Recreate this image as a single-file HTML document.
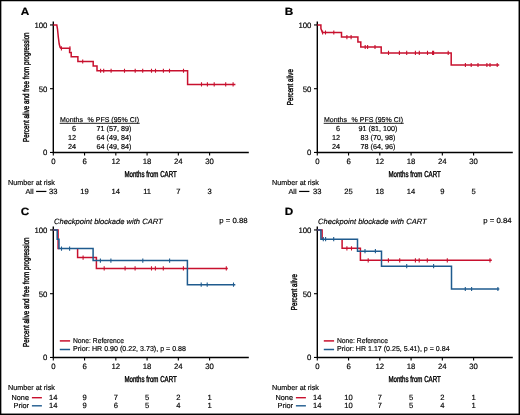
<!DOCTYPE html>
<html><head><meta charset="utf-8"><style>
html,body{margin:0;padding:0;background:#fff;width:520px;height:415px;overflow:hidden}
svg{display:block;will-change:transform;text-rendering:geometricPrecision} text{stroke:#000;stroke-width:0.16px} .cond{stroke-width:0.4px} .bold{stroke-width:0.2px}
</style></head><body>
<svg width="520" height="415" viewBox="0 0 520 415" font-family='"Liberation Sans", sans-serif' fill="#000">
<rect width="520" height="415" fill="#fff"/>
<text transform="translate(20.80,14.75) scale(1.12,1)" font-size="10.5" font-weight="bold" class="bold">A</text>
<path d="M53.3,21.45 V152.45 H248.8" fill="none" stroke="#000" stroke-width="1.4"/>
<path d="M50.0,24.95 H53.3" stroke="#000" stroke-width="1.1"/>
<text x="47.40" y="27.75" font-size="7.8" text-anchor="end" >100</text>
<path d="M50.0,88.70 H53.3" stroke="#000" stroke-width="1.1"/>
<text x="47.40" y="91.50" font-size="7.8" text-anchor="end" >50</text>
<path d="M50.0,152.45 H53.3" stroke="#000" stroke-width="1.1"/>
<text x="47.40" y="155.25" font-size="7.8" text-anchor="end" >0</text>
<path d="M53.30,152.45 V155.54999999999998" stroke="#000" stroke-width="1.1"/>
<text x="53.30" y="163.65" font-size="7.8" text-anchor="middle" >0</text>
<path d="M84.56,152.45 V155.54999999999998" stroke="#000" stroke-width="1.1"/>
<text x="84.56" y="163.65" font-size="7.8" text-anchor="middle" >6</text>
<path d="M115.82,152.45 V155.54999999999998" stroke="#000" stroke-width="1.1"/>
<text x="115.82" y="163.65" font-size="7.8" text-anchor="middle" >12</text>
<path d="M147.08,152.45 V155.54999999999998" stroke="#000" stroke-width="1.1"/>
<text x="147.08" y="163.65" font-size="7.8" text-anchor="middle" >18</text>
<path d="M178.34,152.45 V155.54999999999998" stroke="#000" stroke-width="1.1"/>
<text x="178.34" y="163.65" font-size="7.8" text-anchor="middle" >24</text>
<path d="M209.60,152.45 V155.54999999999998" stroke="#000" stroke-width="1.1"/>
<text x="209.60" y="163.65" font-size="7.8" text-anchor="middle" >30</text>
<text x="150.60" y="176.75" font-size="8.6" text-anchor="middle" textLength="52.3" lengthAdjust="spacingAndGlyphs" class="cond">Months from CART</text>
<text class="cond" transform="translate(28.80,87.15) rotate(-90)" font-size="8.6" text-anchor="middle" textLength="109.5" lengthAdjust="spacingAndGlyphs">Percent alive and free from progression</text>
<text x="8.10" y="184.95" font-size="7.2" text-anchor="start" >Number at risk</text>
<text x="25.40" y="193.95" font-size="7.3" text-anchor="start" >All</text>
<path d="M36.10,191.45 H46.40" stroke="#000" stroke-width="1.2"/>
<text x="53.30" y="193.95" font-size="7.6" text-anchor="middle" >33</text>
<text x="84.56" y="193.95" font-size="7.6" text-anchor="middle" >19</text>
<text x="115.82" y="193.95" font-size="7.6" text-anchor="middle" >14</text>
<text x="147.08" y="193.95" font-size="7.6" text-anchor="middle" >11</text>
<text x="178.34" y="193.95" font-size="7.6" text-anchor="middle" >7</text>
<text x="209.60" y="193.95" font-size="7.6" text-anchor="middle" >3</text>
<text x="60.00" y="121.50" font-size="7.0" text-anchor="start" >Months</text>
<text x="87.60" y="121.50" font-size="7.0" text-anchor="start" textLength="51.4" lengthAdjust="spacingAndGlyphs" >% PFS (95% CI)</text>
<path d="M59.70,123.30 H139.70" stroke="#000" stroke-width="0.9"/>
<text x="76.10" y="130.70" font-size="7.3" text-anchor="end" >6</text>
<text x="114.00" y="130.70" font-size="7.2" text-anchor="middle" >71 (57, 89)</text>
<text x="76.10" y="139.90" font-size="7.3" text-anchor="end" >12</text>
<text x="114.00" y="139.90" font-size="7.2" text-anchor="middle" >64 (49, 84)</text>
<text x="76.10" y="149.10" font-size="7.3" text-anchor="end" >24</text>
<text x="114.00" y="149.10" font-size="7.2" text-anchor="middle" >64 (49, 84)</text>
<path d="M53.3,24.95 H56.8 L57.5,29 L58.3,37 L59.2,44 L60.2,47.5 L61,48.3 H69.6 V52.4 H71.2 V56.8 H77.9 V61.5 H93.2 V65.9 H97.0 V70.75 H187.6 V84.4 H235.4" fill="none" stroke="#c8102e" stroke-width="1.5" stroke-linejoin="miter"/>
<path d="M61.4,46.20V50.40M69.95,46.20V50.40M82.7,59.40V63.60M100.6,68.65V72.85M103.7,68.65V72.85M111.1,68.65V72.85M124.5,68.65V72.85M135.2,68.65V72.85M142.7,68.65V72.85M151.5,68.65V72.85M155.5,68.65V72.85M163.4,68.65V72.85M169.5,68.65V72.85M183.5,68.65V72.85M201.5,82.30V86.50M207.4,82.30V86.50M214.2,82.30V86.50M225.7,82.30V86.50M233.1,82.30V86.50" stroke="#c8102e" stroke-width="1.1"/>
<text transform="translate(284.80,14.75) scale(1.12,1)" font-size="10.5" font-weight="bold" class="bold">B</text>
<path d="M317.3,21.45 V152.45 H512.8" fill="none" stroke="#000" stroke-width="1.4"/>
<path d="M314.0,24.95 H317.3" stroke="#000" stroke-width="1.1"/>
<text x="311.40" y="27.75" font-size="7.8" text-anchor="end" >100</text>
<path d="M314.0,88.70 H317.3" stroke="#000" stroke-width="1.1"/>
<text x="311.40" y="91.50" font-size="7.8" text-anchor="end" >50</text>
<path d="M314.0,152.45 H317.3" stroke="#000" stroke-width="1.1"/>
<text x="311.40" y="155.25" font-size="7.8" text-anchor="end" >0</text>
<path d="M317.30,152.45 V155.54999999999998" stroke="#000" stroke-width="1.1"/>
<text x="317.30" y="163.65" font-size="7.8" text-anchor="middle" >0</text>
<path d="M348.56,152.45 V155.54999999999998" stroke="#000" stroke-width="1.1"/>
<text x="348.56" y="163.65" font-size="7.8" text-anchor="middle" >6</text>
<path d="M379.82,152.45 V155.54999999999998" stroke="#000" stroke-width="1.1"/>
<text x="379.82" y="163.65" font-size="7.8" text-anchor="middle" >12</text>
<path d="M411.08,152.45 V155.54999999999998" stroke="#000" stroke-width="1.1"/>
<text x="411.08" y="163.65" font-size="7.8" text-anchor="middle" >18</text>
<path d="M442.34,152.45 V155.54999999999998" stroke="#000" stroke-width="1.1"/>
<text x="442.34" y="163.65" font-size="7.8" text-anchor="middle" >24</text>
<path d="M473.60,152.45 V155.54999999999998" stroke="#000" stroke-width="1.1"/>
<text x="473.60" y="163.65" font-size="7.8" text-anchor="middle" >30</text>
<text x="414.60" y="176.75" font-size="8.6" text-anchor="middle" textLength="52.3" lengthAdjust="spacingAndGlyphs" class="cond">Months from CART</text>
<text class="cond" transform="translate(292.80,87.15) rotate(-90)" font-size="8.6" text-anchor="middle" textLength="36.0" lengthAdjust="spacingAndGlyphs">Percent alive</text>
<text x="272.10" y="184.95" font-size="7.2" text-anchor="start" >Number at risk</text>
<text x="288.40" y="193.95" font-size="7.3" text-anchor="start" >All</text>
<path d="M299.10,191.45 H309.40" stroke="#000" stroke-width="1.2"/>
<text x="317.30" y="193.95" font-size="7.6" text-anchor="middle" >33</text>
<text x="348.56" y="193.95" font-size="7.6" text-anchor="middle" >25</text>
<text x="379.82" y="193.95" font-size="7.6" text-anchor="middle" >18</text>
<text x="411.08" y="193.95" font-size="7.6" text-anchor="middle" >14</text>
<text x="442.34" y="193.95" font-size="7.6" text-anchor="middle" >9</text>
<text x="473.60" y="193.95" font-size="7.6" text-anchor="middle" >5</text>
<text x="324.00" y="121.50" font-size="7.0" text-anchor="start" >Months</text>
<text x="351.60" y="121.50" font-size="7.0" text-anchor="start" textLength="51.4" lengthAdjust="spacingAndGlyphs" >% PFS (95% CI)</text>
<path d="M323.70,123.30 H403.70" stroke="#000" stroke-width="0.9"/>
<text x="340.10" y="130.70" font-size="7.3" text-anchor="end" >6</text>
<text x="378.00" y="130.70" font-size="7.2" text-anchor="middle" >91 (81, 100)</text>
<text x="340.10" y="139.90" font-size="7.3" text-anchor="end" >12</text>
<text x="378.00" y="139.90" font-size="7.2" text-anchor="middle" >83 (70, 98)</text>
<text x="340.10" y="149.10" font-size="7.3" text-anchor="end" >24</text>
<text x="378.00" y="149.10" font-size="7.2" text-anchor="middle" >78 (64, 96)</text>
<path d="M317.3,24.95 H320.9 V28.6 L322.4,32.5 H341.5 V37.1 H357.9 V41.9 H360.8 V47.0 H381.2 V52.9 H451.2 V65.0 H499.2" fill="none" stroke="#c8102e" stroke-width="1.5" stroke-linejoin="miter"/>
<path d="M322.6,30.40V34.60M325.5,30.40V34.60M333.8,30.40V34.60M346.9,35.00V39.20M351.1,35.00V39.20M365.2,44.90V49.10M367.6,44.90V49.10M375.0,44.90V49.10M388.5,50.80V55.00M399.4,50.80V55.00M406.7,50.80V55.00M415.4,50.80V55.00M419.3,50.80V55.00M427.5,50.80V55.00M432.6,50.80V55.00M433.6,50.80V55.00M448.2,50.80V55.00M465.4,62.90V67.10M471.2,62.90V67.10M478.0,62.90V67.10M486.9,62.90V67.10M490.0,62.90V67.10M497.2,62.90V67.10" stroke="#c8102e" stroke-width="1.1"/>
<text transform="translate(20.80,214.75) scale(1.12,1)" font-size="10.5" font-weight="bold" class="bold">C</text>
<path d="M53.3,226.45 V357.45 H248.8" fill="none" stroke="#000" stroke-width="1.4"/>
<path d="M50.0,229.95 H53.3" stroke="#000" stroke-width="1.1"/>
<text x="47.40" y="232.75" font-size="7.8" text-anchor="end" >100</text>
<path d="M50.0,293.70 H53.3" stroke="#000" stroke-width="1.1"/>
<text x="47.40" y="296.50" font-size="7.8" text-anchor="end" >50</text>
<path d="M50.0,357.45 H53.3" stroke="#000" stroke-width="1.1"/>
<text x="47.40" y="360.25" font-size="7.8" text-anchor="end" >0</text>
<path d="M53.30,357.45 V360.55" stroke="#000" stroke-width="1.1"/>
<text x="53.30" y="368.65" font-size="7.8" text-anchor="middle" >0</text>
<path d="M84.56,357.45 V360.55" stroke="#000" stroke-width="1.1"/>
<text x="84.56" y="368.65" font-size="7.8" text-anchor="middle" >6</text>
<path d="M115.82,357.45 V360.55" stroke="#000" stroke-width="1.1"/>
<text x="115.82" y="368.65" font-size="7.8" text-anchor="middle" >12</text>
<path d="M147.08,357.45 V360.55" stroke="#000" stroke-width="1.1"/>
<text x="147.08" y="368.65" font-size="7.8" text-anchor="middle" >18</text>
<path d="M178.34,357.45 V360.55" stroke="#000" stroke-width="1.1"/>
<text x="178.34" y="368.65" font-size="7.8" text-anchor="middle" >24</text>
<path d="M209.60,357.45 V360.55" stroke="#000" stroke-width="1.1"/>
<text x="209.60" y="368.65" font-size="7.8" text-anchor="middle" >30</text>
<text x="150.60" y="381.75" font-size="8.6" text-anchor="middle" textLength="52.3" lengthAdjust="spacingAndGlyphs" class="cond">Months from CART</text>
<text class="cond" transform="translate(28.80,292.15) rotate(-90)" font-size="8.6" text-anchor="middle" textLength="109.5" lengthAdjust="spacingAndGlyphs">Percent alive and free from progression</text>
<text x="8.10" y="390.40" font-size="7.2" text-anchor="start" >Number at risk</text>
<text x="29.00" y="399.90" font-size="7.3" text-anchor="end" >None</text>
<path d="M31.9,397.70 H41.9" stroke="#c8102e" stroke-width="1.4"/>
<text x="53.30" y="399.90" font-size="7.6" text-anchor="middle" >14</text>
<text x="84.56" y="399.90" font-size="7.6" text-anchor="middle" >9</text>
<text x="115.82" y="399.90" font-size="7.6" text-anchor="middle" >7</text>
<text x="147.08" y="399.90" font-size="7.6" text-anchor="middle" >5</text>
<text x="178.34" y="399.90" font-size="7.6" text-anchor="middle" >2</text>
<text x="209.60" y="399.90" font-size="7.6" text-anchor="middle" >1</text>
<text x="29.00" y="408.00" font-size="7.3" text-anchor="end" >Prior</text>
<path d="M31.9,405.80 H41.9" stroke="#1f5b8e" stroke-width="1.4"/>
<text x="53.30" y="408.00" font-size="7.6" text-anchor="middle" >14</text>
<text x="84.56" y="408.00" font-size="7.6" text-anchor="middle" >9</text>
<text x="115.82" y="408.00" font-size="7.6" text-anchor="middle" >6</text>
<text x="147.08" y="408.00" font-size="7.6" text-anchor="middle" >5</text>
<text x="178.34" y="408.00" font-size="7.6" text-anchor="middle" >4</text>
<text x="209.60" y="408.00" font-size="7.6" text-anchor="middle" >1</text>
<text x="54.10" y="223.65" font-size="7.6" font-style="italic" textLength="108.6" lengthAdjust="spacingAndGlyphs">Checkpoint blockade with CART</text>
<text x="247.70" y="223.25" font-size="7.4" text-anchor="end" textLength="28.4" lengthAdjust="spacingAndGlyphs" >p = 0.88</text>
<path d="M59.80,340.90 H70.10" stroke="#c8102e" stroke-width="1.5"/>
<text x="73.00" y="342.50" font-size="7.1" text-anchor="start" textLength="51.0" lengthAdjust="spacingAndGlyphs" >None: Reference</text>
<path d="M59.80,349.50 H70.10" stroke="#1f5b8e" stroke-width="1.5"/>
<text x="73.00" y="351.10" font-size="7.1" text-anchor="start" textLength="113.0" lengthAdjust="spacingAndGlyphs" >Prior: HR 0.90 (0.22, 3.73), p = 0.88</text>
<path d="M53.3,229.95 H58.1 V248.6 H59.5 M77.6,248.6 V257.6 H96.4 V268.45 H227.8" fill="none" stroke="#c8102e" stroke-width="1.5" stroke-linejoin="miter"/>
<path d="M83.1,255.50V259.70M104.2,266.35V270.55M125.1,266.35V270.55M135.1,266.35V270.55M151.5,266.35V270.55M155.4,266.35V270.55M163.3,266.35V270.55M183.4,266.35V270.55M226.3,266.35V270.55" stroke="#c8102e" stroke-width="1.1"/>
<path d="M53.3,229.95 H57.2 V239.2 H59.0 V248.6 H93.1 V260.6 H187.4 V284.7 H235.3" fill="none" stroke="#1f5b8e" stroke-width="1.5" stroke-linejoin="miter"/>
<path d="M61.5,246.50V250.70M69.6,246.50V250.70M100.4,258.50V262.70M110.9,258.50V262.70M142.8,258.50V262.70M169.6,258.50V262.70M201.2,282.60V286.80M207.2,282.60V286.80M233.5,282.60V286.80" stroke="#1f5b8e" stroke-width="1.1"/>
<text transform="translate(284.80,214.75) scale(1.12,1)" font-size="10.5" font-weight="bold" class="bold">D</text>
<path d="M317.3,226.45 V357.45 H512.8" fill="none" stroke="#000" stroke-width="1.4"/>
<path d="M314.0,229.95 H317.3" stroke="#000" stroke-width="1.1"/>
<text x="311.40" y="232.75" font-size="7.8" text-anchor="end" >100</text>
<path d="M314.0,293.70 H317.3" stroke="#000" stroke-width="1.1"/>
<text x="311.40" y="296.50" font-size="7.8" text-anchor="end" >50</text>
<path d="M314.0,357.45 H317.3" stroke="#000" stroke-width="1.1"/>
<text x="311.40" y="360.25" font-size="7.8" text-anchor="end" >0</text>
<path d="M317.30,357.45 V360.55" stroke="#000" stroke-width="1.1"/>
<text x="317.30" y="368.65" font-size="7.8" text-anchor="middle" >0</text>
<path d="M348.56,357.45 V360.55" stroke="#000" stroke-width="1.1"/>
<text x="348.56" y="368.65" font-size="7.8" text-anchor="middle" >6</text>
<path d="M379.82,357.45 V360.55" stroke="#000" stroke-width="1.1"/>
<text x="379.82" y="368.65" font-size="7.8" text-anchor="middle" >12</text>
<path d="M411.08,357.45 V360.55" stroke="#000" stroke-width="1.1"/>
<text x="411.08" y="368.65" font-size="7.8" text-anchor="middle" >18</text>
<path d="M442.34,357.45 V360.55" stroke="#000" stroke-width="1.1"/>
<text x="442.34" y="368.65" font-size="7.8" text-anchor="middle" >24</text>
<path d="M473.60,357.45 V360.55" stroke="#000" stroke-width="1.1"/>
<text x="473.60" y="368.65" font-size="7.8" text-anchor="middle" >30</text>
<text x="414.60" y="381.75" font-size="8.6" text-anchor="middle" textLength="52.3" lengthAdjust="spacingAndGlyphs" class="cond">Months from CART</text>
<text class="cond" transform="translate(297.40,292.15) rotate(-90)" font-size="8.6" text-anchor="middle" textLength="36.0" lengthAdjust="spacingAndGlyphs">Percent alive</text>
<text x="272.10" y="390.40" font-size="7.2" text-anchor="start" >Number at risk</text>
<text x="293.00" y="399.90" font-size="7.3" text-anchor="end" >None</text>
<path d="M295.90000000000003,397.70 H305.90000000000003" stroke="#c8102e" stroke-width="1.4"/>
<text x="317.30" y="399.90" font-size="7.6" text-anchor="middle" >14</text>
<text x="348.56" y="399.90" font-size="7.6" text-anchor="middle" >10</text>
<text x="379.82" y="399.90" font-size="7.6" text-anchor="middle" >7</text>
<text x="411.08" y="399.90" font-size="7.6" text-anchor="middle" >5</text>
<text x="442.34" y="399.90" font-size="7.6" text-anchor="middle" >2</text>
<text x="473.60" y="399.90" font-size="7.6" text-anchor="middle" >1</text>
<text x="293.00" y="408.00" font-size="7.3" text-anchor="end" >Prior</text>
<path d="M295.90000000000003,405.80 H305.90000000000003" stroke="#1f5b8e" stroke-width="1.4"/>
<text x="317.30" y="408.00" font-size="7.6" text-anchor="middle" >14</text>
<text x="348.56" y="408.00" font-size="7.6" text-anchor="middle" >10</text>
<text x="379.82" y="408.00" font-size="7.6" text-anchor="middle" >7</text>
<text x="411.08" y="408.00" font-size="7.6" text-anchor="middle" >5</text>
<text x="442.34" y="408.00" font-size="7.6" text-anchor="middle" >4</text>
<text x="473.60" y="408.00" font-size="7.6" text-anchor="middle" >1</text>
<text x="318.10" y="223.65" font-size="7.6" font-style="italic" textLength="108.6" lengthAdjust="spacingAndGlyphs">Checkpoint blockade with CART</text>
<text x="511.70" y="223.25" font-size="7.4" text-anchor="end" textLength="28.4" lengthAdjust="spacingAndGlyphs" >p = 0.84</text>
<path d="M323.80,340.90 H334.10" stroke="#c8102e" stroke-width="1.5"/>
<text x="337.00" y="342.50" font-size="7.1" text-anchor="start" textLength="51.0" lengthAdjust="spacingAndGlyphs" >None: Reference</text>
<path d="M323.80,349.50 H334.10" stroke="#1f5b8e" stroke-width="1.5"/>
<text x="337.00" y="351.10" font-size="7.1" text-anchor="start" textLength="112.6" lengthAdjust="spacingAndGlyphs" >Prior: HR 1.17 (0.25, 5.41), p = 0.84</text>
<path d="M317.3,229.95 H322.1 V239.2 H323.0 M342.1,239.2 V248.3 H360.4 V260.3 H491.8" fill="none" stroke="#c8102e" stroke-width="1.5" stroke-linejoin="miter"/>
<path d="M346.9,246.20V250.40M351.5,246.20V250.40M368.2,258.20V262.40M388.4,258.20V262.40M399.7,258.20V262.40M415.4,258.20V262.40M419.2,258.20V262.40M427.3,258.20V262.40M447.3,258.20V262.40M490.0,258.20V262.40" stroke="#c8102e" stroke-width="1.1"/>
<path d="M317.3,229.95 H320.9 V239.2 H357.5 V251.2 H381.5 V266.2 H451.5 V289.0 H499.3" fill="none" stroke="#1f5b8e" stroke-width="1.5" stroke-linejoin="miter"/>
<path d="M323.3,237.10V241.30M325.6,237.10V241.30M333.7,237.10V241.30M365.0,249.10V253.30M375.4,249.10V253.30M406.7,264.10V268.30M433.6,264.10V268.30M465.3,286.90V291.10M471.6,286.90V291.10M497.9,286.90V291.10" stroke="#1f5b8e" stroke-width="1.1"/>
<rect x="0" y="0" width="520" height="1.25" fill="#000"/>
<rect x="0" y="0" width="1.35" height="415" fill="#000"/>
<rect x="518.55" y="0" width="1.45" height="415" fill="#000"/>
<rect x="0" y="413.55" width="520" height="1.45" fill="#000"/>
</svg>
</body></html>
